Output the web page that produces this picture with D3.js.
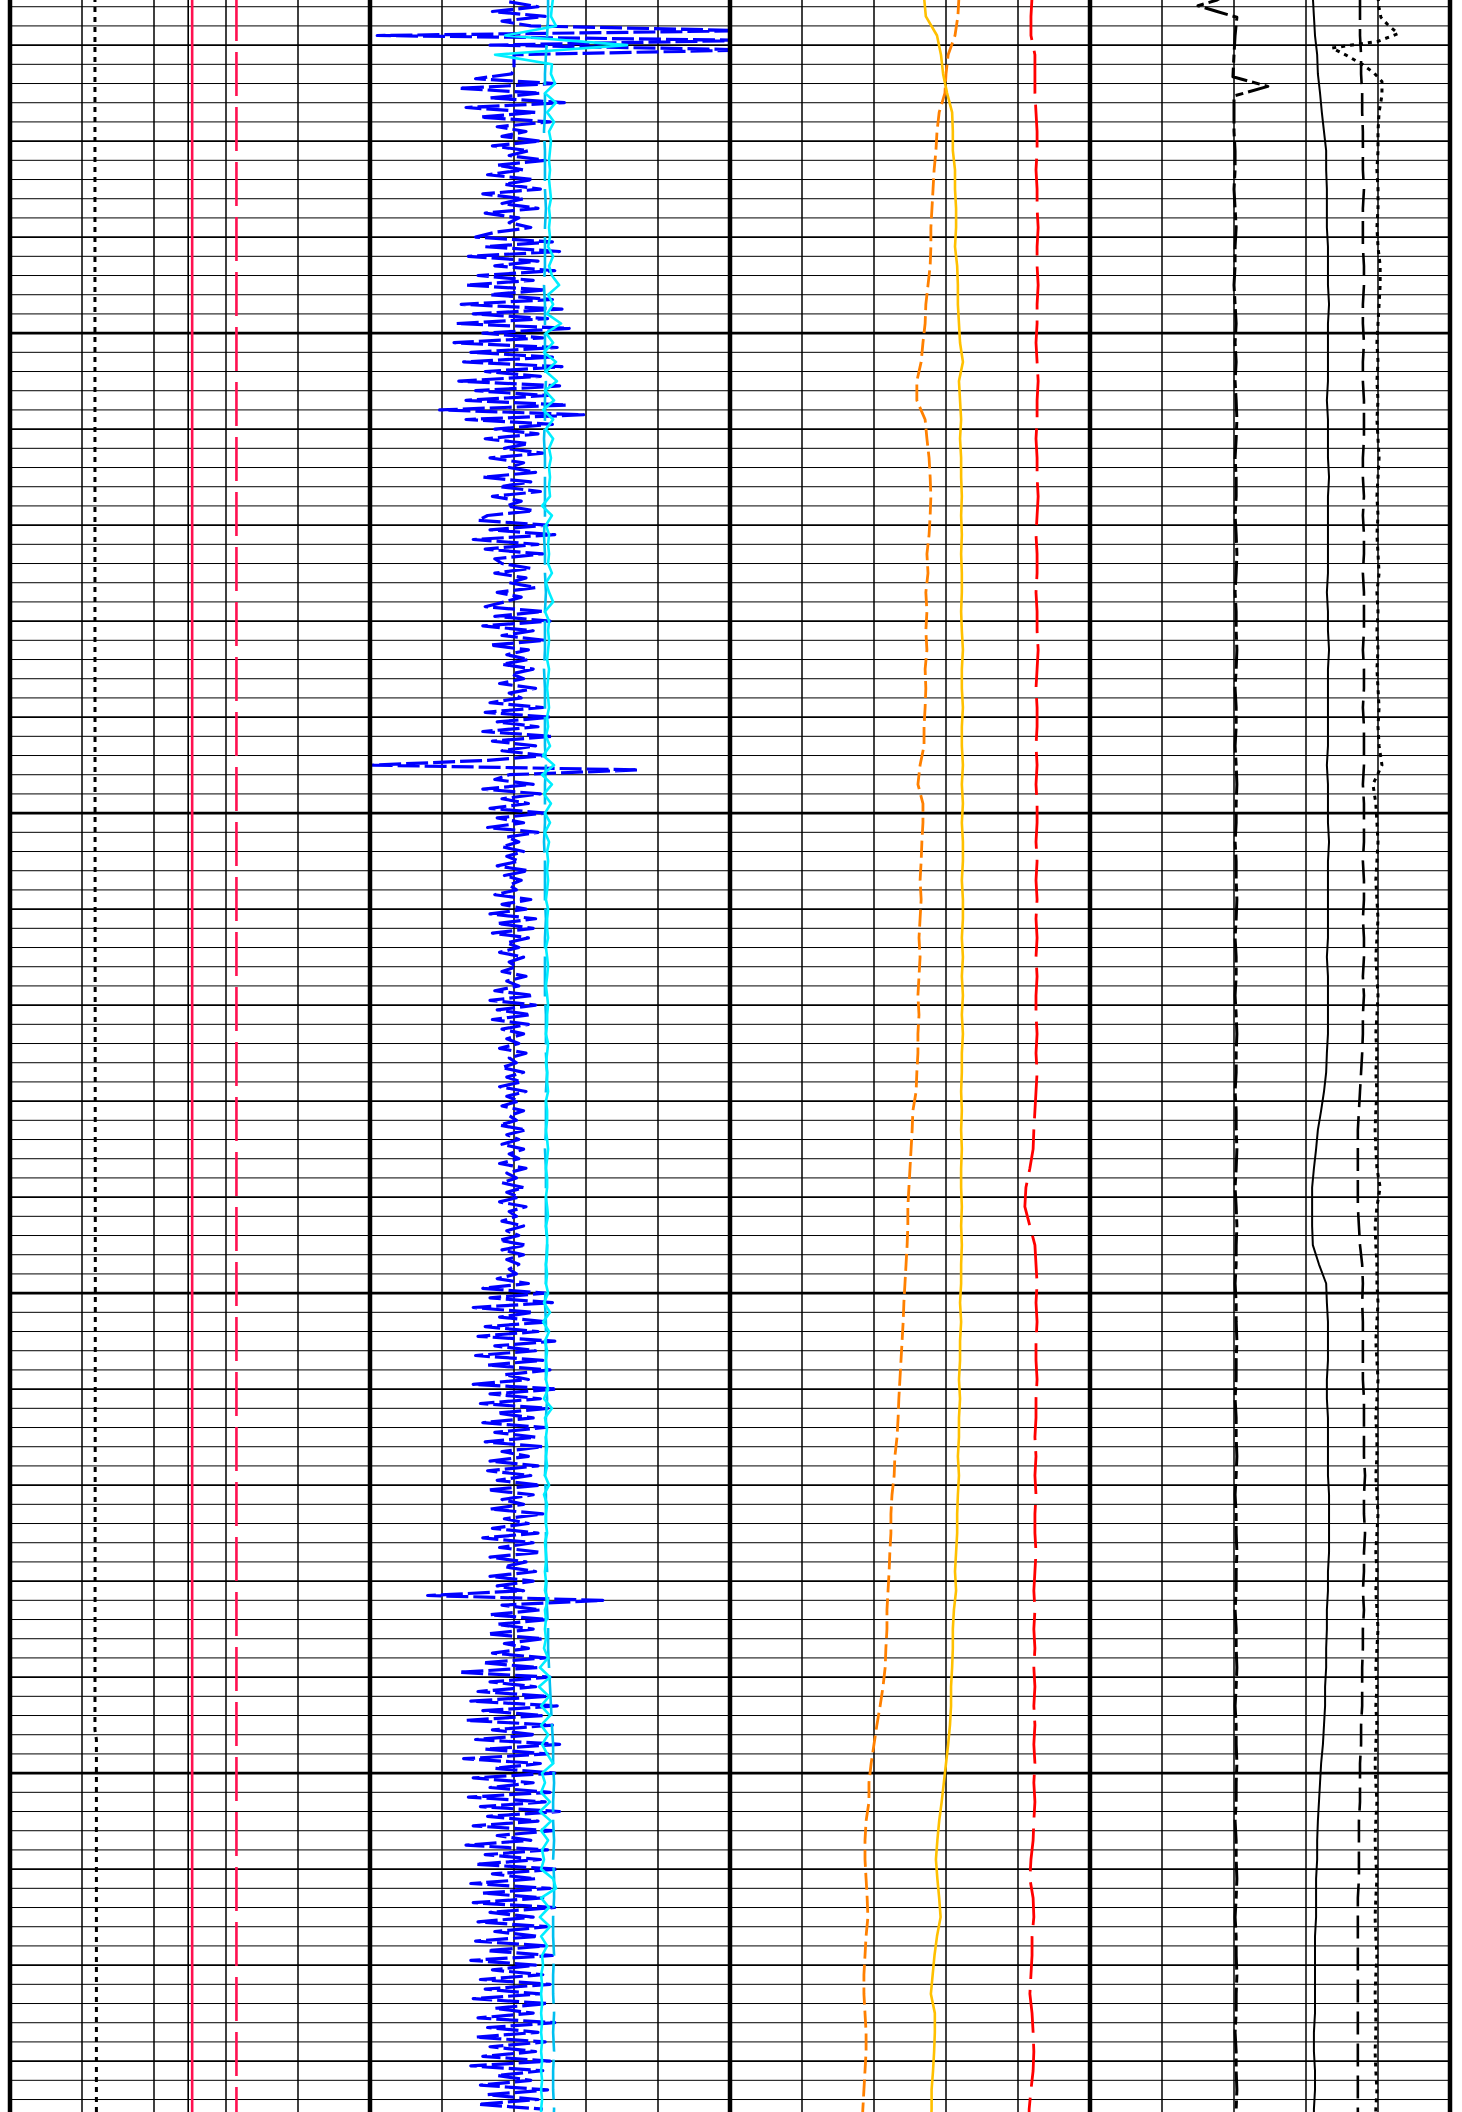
<!DOCTYPE html>
<html>
<head>
<meta charset="utf-8">
<script src="https://d3js.org/d3.v7.min.js"></script>
<style>
  body { margin: 0; background: #fff; }
  svg { display: block; }
</style>
</head>
<body>
<svg id="viz" width="1462" height="2112"></svg>

<script>
var width = 1462;
var height = 2112;

// depth window of the picture
var topDepth = 1015.3;
var bottomDepth = 1235.3;

// the four tracks
var trackLeft = [10, 370, 730, 1090];
var trackWidth = 360;
var trackDomain = [[0, 100], [0, 150], [0, 100], [0, 100]];

// ---- track 1 (nearly flat curves, few nodes) ----
var t1Depth = [1015, 1080, 1150, 1195.5, 1196.5, 1237];
var t1Dotted = [23.6, 23.6, 23.7, 23.6, 24.0, 24.0];
var t1Black = [49.5, 49.5, 49.5, 49.5, 49.5, 49.5];
var t1Red = [50.6, 50.6, 50.6, 50.6, 50.6, 50.6];
var t1RedDash = [62.9, 62.9, 62.9, 62.9, 62.9, 62.9];

// ---- track 2 ----
// blue curve, one sample every 0.5 from 1015.5
var blueStart = 1015.5, blueStep = 0.5;
var blueVal = [
  58, 70, 51, 73, 55, 67,
  158, 3, 158, 50, 160,
  60, 60, 60, 60, 59,
  44, 77, 37, 71, 50, 81, 40, 69, 46, 75, 53, 65,
  55, 71, 51, 66, 58, 73, 53, 64,
  49, 68, 56, 71, 47, 64, 55, 70, 48, 62, 58, 67, 52,
  44, 76, 48, 79, 41, 70, 52, 77, 45, 68, 40, 73, 50, 76,
  38, 80, 43, 74, 36, 83, 47, 72, 35, 78,
  42, 76, 39, 80, 48, 71, 37, 79, 44, 74, 40, 82, 29, 89,
  40, 76,
  52, 70, 48, 66, 56, 72, 50, 64, 58, 69, 47, 67, 54, 71, 51, 63, 57, 68, 49,
  45, 74, 50, 77, 43, 70, 48, 72, 52,
  55, 67, 52, 65, 58, 69, 53, 63, 56,
  48, 72, 52, 75, 47, 68, 55, 73, 50, 66,
  57, 66, 55, 68, 59, 64, 54, 69, 58, 63,
  50, 72, 48, 75, 53, 70, 47, 76, 51, 69, 55, 73, 49,
  1, 112, 58,
  52, 68, 47, 71, 55, 66, 50, 73, 53, 64, 49, 70, 57, 62,
  55, 64, 57, 62, 53, 66, 56, 63, 58, 61,
  52, 67, 55, 65, 50, 69, 53, 68, 51, 66,
  57, 62, 54, 64, 58, 61, 55, 65, 57, 62,
  52, 68, 50, 69, 53, 67, 51, 66, 55, 64,
  57, 62, 54, 65, 58, 61, 55, 64, 57, 63,
  54, 65, 57, 62, 55, 64, 58, 61, 54, 65,
  57, 62, 55, 64, 58, 62, 54, 65, 57, 61,
  55, 64, 57, 62, 54, 65, 58, 61, 55, 64,
  57, 62, 54, 65, 55, 64, 57, 62, 58, 61,
  53, 66,
  47, 73, 50, 76, 43, 68, 54, 74, 48, 70,
  45, 77, 52, 69, 44, 72, 49, 75, 56, 66,
  43, 78, 50, 71, 46, 74, 53, 68, 47, 73,
  52, 69, 48, 72, 55, 66, 50, 70, 49, 67,
  53, 71, 49, 68, 55, 64, 50, 72, 56, 66,
  51, 70, 47, 68, 54, 71, 50, 65, 56, 69,
  50, 68, 53, 64,
  24, 97,
  55, 71, 50, 74, 53, 68, 49, 72, 56, 66,
  51, 73, 47, 70, 37, 75, 50, 69, 45, 74,
  42, 78, 47, 72, 40, 76, 51, 69, 44, 79,
  48, 74, 39, 71, 52, 77, 43, 68, 50, 75,
  41, 73, 46, 79, 49, 70, 43, 76, 53, 67,
  40, 74, 48, 71, 44, 78, 51, 69, 42, 75,
  47, 72, 43, 77, 50, 68, 45, 74, 52, 70,
  44, 73, 49, 76, 42, 69, 51, 72, 46, 75,
  48, 71, 43, 74, 52, 68, 45, 77, 49, 70,
  44, 73, 50, 69, 47, 75, 42, 72, 53, 67,
  46, 74, 49, 70, 45, 72
];

// cyan curve, one sample every 1 from 1015
var cyanStart = 1015, cyanStep = 1;
var cyanVal = [
  76.3, 75.8, 75.4, 77.5, 56.3, 107.1, 52.1, 75.8, 75.4, 77.1,
  72.9, 77.5, 73.8, 76.7, 74.6, 75.4, 75.0, 74.6, 75.0, 74.6,
  75.0, 75.4, 74.6, 75.0, 74.6, 75.0, 74.2, 76.3, 74.6, 75.8,
  78.8, 74.2, 76.3, 73.8, 79.6, 73.3, 76.3, 72.5, 77.5, 73.3,
  77.9, 72.9, 76.7, 72.1, 76.3, 73.3, 76.3, 74.6, 75.4, 74.6,
  75.0, 74.6, 75.0, 71.7, 75.8, 73.3, 74.6, 74.2, 74.6, 74.2,
  75.8, 73.3, 74.6, 76.3, 72.9, 74.6, 74.2, 74.6, 74.2, 73.8,
  74.6, 74.2, 73.8, 74.2, 74.6, 73.8, 74.2, 73.3, 75.0, 72.1,
  76.7, 71.7, 75.8, 72.5, 75.4, 72.9, 75.0, 72.9, 74.6, 73.8,
  74.2, 73.8, 74.2, 73.8, 73.3, 74.2, 73.8, 73.8, 74.2, 73.3,
  73.8, 74.2, 73.8, 73.3, 73.8, 74.2, 73.8, 73.8, 73.3, 74.2,
  73.8, 73.3, 73.8, 73.8, 74.2, 73.3, 73.8, 73.8, 73.3, 73.8,
  74.2, 73.8, 73.3, 73.8, 73.8, 73.3, 73.8, 74.2, 73.3, 73.8,
  73.8, 73.8, 73.3, 73.8, 73.3, 74.2, 72.5, 75.0, 72.1, 74.6,
  72.9, 73.8, 73.3, 73.8, 73.3, 74.2, 72.5, 75.8, 72.9, 73.8,
  73.3, 73.8, 73.3, 73.8, 72.9, 74.6, 72.5, 73.8, 73.3, 73.3,
  73.8, 72.9, 73.3, 73.3, 72.9, 73.3, 72.9, 74.2, 72.9, 73.3,
  72.9, 73.3, 72.5, 74.2, 70.8, 75.0, 70.4, 74.6, 71.3, 75.0,
  71.3, 74.2, 71.7, 73.8, 76.3, 71.7, 72.9, 71.3, 75.0, 70.8,
  75.4, 71.3, 74.2, 71.7, 72.5, 71.3, 76.3, 77.5, 71.3, 74.6,
  70.8, 75.0, 71.3, 73.8, 71.7, 72.1, 71.3, 71.7, 71.3, 71.7,
  71.3, 71.7, 71.3, 71.7, 71.3, 71.7, 71.3, 71.7, 71.3, 71.7,
  71.3, 71.3
];

// sky blue dashed curve, every 2 from 1015
var skyVal = [
  74.2, 74.2, 73.8, 73.3,
  72.9, 72.9, 72.9, 72.5, 72.9, 72.9, 72.9, 73.3, 72.9, 72.9,
  72.9, 72.5, 72.9, 72.9, 72.9, 72.9, 73.3, 72.9, 72.9, 72.5,
  72.9, 72.9, 72.9, 72.9, 72.5, 72.9, 72.9, 73.3, 72.9, 72.9,
  72.9, 72.5, 72.9, 72.9, 72.9, 72.9, 73.3, 72.9, 72.9, 72.9,
  72.5, 72.9, 72.9, 72.9, 73.3, 72.9, 72.9, 72.9, 72.9,
  73.3, 73.3, 73.3, 73.8, 73.3, 73.3, 73.3, 72.9, 73.3, 73.3,
  73.3, 73.3, 73.8, 73.3, 73.3, 72.9, 73.3, 73.3, 73.3, 73.3,
  73.8, 73.3, 73.3, 73.3, 72.9, 73.3, 73.3, 73.3, 73.3, 73.8, 73.3,
  73.8, 74.2, 74.2, 74.6, 75.0, 75.4, 75.8, 76.3,
  76.3, 76.7, 76.3, 76.3, 76.7, 76.3, 76.7, 76.7, 76.3, 76.3,
  76.7, 76.3, 76.3, 76.7, 76.3, 76.7, 76.3, 76.3, 76.7, 76.3
];

// ---- track 3, every 2 from 1015 ----
var gridStart = 1015, gridStep = 2;
var yellowVal = [
  53.9, 54.4, 57.5, 58.6, 59.2, 60.3, 61.7, 61.9, 61.9, 62.5,
  62.5, 62.8, 62.8, 62.5, 63.1, 63.3, 63.3, 63.6, 63.9, 64.7,
  63.6, 63.9, 64.2, 63.9, 64.2, 64.2, 64.4, 64.2, 64.4, 64.2,
  64.4, 64.4, 64.2, 64.4, 64.7, 64.4, 64.4, 64.7, 64.4, 64.4,
  64.7, 64.4, 64.7, 64.4, 64.7, 64.7, 64.4, 64.7, 64.7, 64.4,
  64.7, 64.4, 64.7, 64.4, 64.7, 64.4, 64.4, 64.2, 64.4, 64.2,
  64.4, 64.2, 64.2, 64.4, 64.2, 64.4, 64.2, 64.2, 63.9, 64.2,
  63.9, 63.9, 63.6, 63.9, 63.6, 63.6, 63.3, 63.6, 63.3, 63.1,
  63.1, 62.8, 62.5, 62.8, 62.2, 61.9, 61.9, 61.7, 61.4, 61.4,
  61.1, 60.6, 60.0, 59.4, 58.8, 58.1, 57.6, 57.2, 57.6, 58.1,
  58.5, 57.5, 56.8, 56.3, 55.8, 56.9, 56.9, 56.7, 56.4, 56.0,
  56.0, 55.8
];
var orangeVal = [
  63.6, 63.3, 62.5, 60.6, 60.0, 59.7, 58.1, 57.5, 57.2, 56.7,
  56.4, 56.1, 55.8, 55.8, 55.6, 55.0, 54.4, 54.2, 53.6, 53.1,
  51.9, 51.9, 54.2, 54.7, 55.3, 55.6, 55.8, 55.6, 55.3, 54.7,
  55.0, 54.4, 54.7, 54.4, 54.7, 54.2, 54.4, 54.2, 53.9, 53.9,
  52.8, 52.2, 53.6, 53.6, 53.3, 53.1, 52.8, 53.1, 52.8, 52.5,
  52.8, 52.5, 52.2, 52.5, 52.2, 52.2, 51.9, 51.7, 50.8, 50.6,
  50.3, 50.0, 49.7, 49.4, 49.4, 49.2, 48.9, 48.6, 48.3, 48.1,
  47.8, 47.5, 47.2, 46.9, 46.7, 46.4, 45.8, 45.6, 45.0, 44.7,
  44.7, 44.4, 44.2, 43.9, 43.6, 43.6, 43.3, 43.1, 42.5, 41.7,
  40.8, 40.0, 39.2, 38.6, 38.6, 37.8, 37.5, 37.5, 37.8, 38.1,
  38.3, 37.8, 37.5, 37.2, 37.2, 37.5, 37.8, 37.8, 37.5, 37.2,
  36.9, 36.7
];
var redVal = [
  83.9, 83.6, 83.6, 84.7, 84.7, 84.7, 85.0, 85.3, 85.3, 85.0,
  85.3, 85.3, 85.6, 85.3, 85.3, 85.6, 85.3, 85.3, 85.0, 85.3,
  85.6, 85.3, 85.3, 85.0, 85.3, 85.3, 85.6, 85.3, 85.0, 85.3,
  85.3, 85.0, 85.3, 85.3, 85.6, 85.3, 85.0, 85.3, 85.3, 85.0,
  85.3, 85.0, 85.3, 85.3, 85.0, 85.3, 85.0, 85.3, 85.0, 85.3,
  85.0, 85.3, 85.0, 85.0, 85.3, 85.0, 85.3, 85.0, 84.7, 84.4,
  84.2, 83.3, 82.2, 81.9, 83.3, 84.7, 85.0, 85.3, 85.0, 85.3,
  85.0, 85.0, 85.3, 85.0, 85.0, 84.7, 85.0, 84.7, 85.0, 84.7,
  84.7, 85.0, 84.7, 84.4, 84.7, 84.4, 84.7, 84.4, 84.7, 84.4,
  84.7, 84.4, 84.7, 84.4, 84.7, 84.4, 84.2, 83.6, 83.3, 84.2,
  84.4, 83.9, 83.9, 83.6, 83.3, 83.9, 84.2, 84.4, 84.2, 83.6,
  83.1, 83.1
];

// ---- track 4, every 2 from 1015 ----
var solidVal = [
  61.9, 62.2, 62.5, 63.1, 63.3, 63.9, 64.4, 65.0, 65.6, 65.6,
  65.8, 65.8, 65.8, 66.1, 66.1, 66.1, 66.4, 66.1, 66.1, 66.1,
  66.1, 65.8, 66.1, 66.1, 66.1, 66.4, 66.1, 66.1, 66.1, 66.1,
  66.1, 65.8, 66.1, 66.1, 66.4, 66.1, 66.1, 66.1, 66.1, 66.1,
  65.8, 66.1, 66.1, 66.1, 66.4, 66.1, 66.1, 66.1, 66.1, 66.1,
  65.8, 66.1, 66.1, 66.1, 66.1, 65.8, 65.6, 65.0, 64.2, 63.3,
  62.8, 62.2, 61.7, 61.7, 61.7, 61.9, 63.6, 65.6, 65.8, 66.1,
  66.1, 66.1, 65.8, 65.8, 66.1, 66.1, 66.1, 66.1, 66.4, 66.4,
  66.4, 66.4, 66.1, 66.1, 65.8, 65.8, 65.6, 65.6, 65.3, 65.3,
  65.0, 64.7, 64.2, 63.9, 63.6, 63.3, 63.1, 63.1, 62.8, 62.8,
  62.8, 62.5, 62.5, 62.5, 62.5, 62.5, 62.2, 62.2, 62.5, 62.5,
  62.2, 62.2
];
var longDashVal = [
  75.0, 75.0, 75.0, 75.3, 75.3, 75.6, 75.6, 75.8,
  75.8, 75.8, 76.1, 75.8, 75.8, 75.8, 76.1, 76.1, 75.8, 75.8,
  76.1, 75.8, 75.8, 76.1, 76.1, 76.1, 75.8, 75.8, 76.1, 75.8,
  76.1, 76.1, 75.8, 76.1, 76.1, 76.1, 75.8, 76.1, 76.1, 75.8,
  76.1, 76.1, 76.1, 75.8, 76.1, 76.1, 76.1, 75.8, 76.1, 76.1,
  75.8, 76.1, 76.1, 75.8, 76.1, 75.8,
  75.8, 75.6, 75.3, 75.0, 74.7,
  74.4, 74.4, 74.4, 74.4, 74.4,
  74.7, 75.0, 75.6, 75.8, 75.6,
  75.8, 75.8, 75.8, 75.8, 76.1, 76.1,
  76.1, 76.1, 76.4, 76.1, 76.1, 76.4, 76.1, 76.1, 75.8, 76.1,
  75.8, 75.8, 75.6, 75.6, 75.6, 75.3,
  75.3, 75.0, 75.0, 75.0, 74.7, 74.7, 74.7, 74.7,
  74.4, 74.4, 74.4, 74.4, 74.4, 74.4, 74.4, 74.4, 74.4, 74.4,
  74.4, 74.4, 74.4
];
// dotted and dash-dot curves have extra detail at the top, then every 2 from 1027
var dotTopDepth = [1015.0, 1016.1, 1017.1, 1017.9, 1018.8, 1019.6, 1020.3, 1021.1, 1022.0, 1022.9, 1023.8, 1025.2];
var dotVal = [
  80.0, 80.3, 80.8, 82.8, 85.6, 80.0, 67.2, 71.4, 75.6, 78.9, 81.1, 81.1,
  80.3, 80.0, 80.0, 79.7, 80.0, 80.0, 79.7, 80.0, 80.6, 80.6,
  80.3, 80.0, 79.7, 80.0, 79.7, 80.0, 79.7, 80.0, 80.3, 80.0,
  79.7, 80.0, 79.7, 80.0, 80.3, 79.7, 80.0, 79.7, 80.0, 79.7,
  80.0, 80.3, 80.0, 80.3, 81.1, 78.6, 79.4, 79.7, 80.0, 79.7,
  79.4, 79.7, 80.0, 79.7, 79.4, 79.7, 80.0, 79.7, 79.4, 79.7,
  79.4, 79.7, 79.4, 79.2, 79.4, 79.7, 80.6, 79.7, 79.2, 79.4,
  79.7, 79.7, 80.0, 79.7, 79.4, 79.7, 80.0, 79.7, 79.4, 79.7,
  79.7, 79.4, 79.7, 80.0, 79.7, 79.4, 79.7, 79.4, 79.7, 80.0,
  79.7, 79.4, 79.7, 79.4, 79.7, 79.4, 79.2, 79.4, 79.7, 79.4,
  79.2, 79.4, 79.7, 79.4, 79.2, 79.4, 79.7, 79.4, 79.2, 79.4,
  79.4, 79.2, 79.4, 79.7, 79.4, 79.2
];
var dashDotTopDepth = [1014.5, 1015.3, 1015.9, 1016.5, 1017.1, 1019.0, 1021.0, 1023.3, 1024.3, 1025.3];
var dashDotVal = [
  38.9, 35.3, 30.0, 35.3, 40.8, 40.3, 40.0, 39.7, 49.4, 40.0,
  40.0, 40.0, 40.3, 40.3, 40.0, 40.3, 40.6, 40.3, 40.3, 40.0,
  40.3, 40.6, 40.3, 40.6, 40.3, 40.6, 40.8, 40.6, 40.3, 40.6,
  40.6, 40.3, 40.6, 40.8, 40.6, 40.3, 40.6, 40.6, 40.8, 40.6,
  40.3, 40.6, 40.6, 40.3, 40.6, 40.8, 40.6, 40.6, 40.3, 40.6,
  40.6, 40.8, 40.6, 40.3, 40.6, 40.6, 40.3, 40.6, 40.8, 40.6,
  40.6, 40.3, 40.6, 40.6, 40.8, 40.6, 40.3, 40.6, 40.8, 40.6,
  40.6, 40.3, 40.6, 40.6, 40.8, 40.6, 40.6, 40.3, 40.6, 40.6,
  40.8, 40.6, 40.3, 40.6, 40.6, 40.8, 40.6, 40.6, 40.3, 40.6,
  40.6, 40.8, 40.6, 40.3, 40.6, 40.6, 40.8, 40.6, 40.6, 40.3,
  40.6, 40.6, 40.8, 40.6, 40.3, 40.6, 40.6, 40.8, 40.6, 40.6,
  40.3, 40.6, 40.6, 40.8, 40.6, 40.6
];
</script>

<script>
var svg = d3.select("#viz");

var y = d3.scaleLinear().domain([topDepth, bottomDepth]).range([0, height]);
var xs = trackDomain.map(function(dom, t) {
  return d3.scaleLinear().domain(dom).range([trackLeft[t], trackLeft[t] + trackWidth]);
});

function regular(start, step, n) {
  return d3.range(n).map(function(i) { return start + step * i; });
}
// top nodes typed, the rest on the 2-unit grid
function withTop(top, n) {
  return top.concat(regular(1027, 2, n - top.length));
}

svg.append("rect").attr("width", width).attr("height", height).attr("fill", "#fff");

// clip each track
var defs = svg.append("defs");
trackLeft.forEach(function(x0, t) {
  defs.append("clipPath").attr("id", "clip" + t)
    .append("rect").attr("x", x0).attr("y", 0).attr("width", trackWidth).attr("height", height);
});

// horizontal depth grid
var gridLines = d3.range(1016, 1236, 2);
svg.append("g").selectAll("line").data(gridLines).enter().append("line")
  .attr("x1", trackLeft[0]).attr("x2", trackLeft[3] + trackWidth)
  .attr("y1", function(d) { return y(d); })
  .attr("y2", function(d) { return y(d); })
  .attr("stroke", "#000")
  .attr("stroke-width", function(d) {
    if (d % 50 === 0) return 2.8;
    if (d % 10 === 0) return 1.8;
    return 1;
  });

// vertical grid inside each track
xs.forEach(function(sc) {
  var dom = sc.domain();
  var ticks = d3.range(1, 5).map(function(j) { return dom[0] + j * (dom[1] - dom[0]) / 5; });
  svg.append("g").selectAll("line").data(ticks).enter().append("line")
    .attr("x1", function(d) { return sc(d); })
    .attr("x2", function(d) { return sc(d); })
    .attr("y1", 0).attr("y2", height)
    .attr("stroke", "#000").attr("stroke-width", 1.5);
});

var curves = [
  { track: 0, depth: t1Depth, val: t1Dotted, color: "#000", w: 3, dash: "5,5" },
  { track: 0, depth: t1Depth, val: t1Black, color: "#000", w: 1.6, dash: null },
  { track: 0, depth: t1Depth, val: t1Red, color: "#ff1050", w: 2.6, dash: null },
  { track: 0, depth: t1Depth, val: t1RedDash, color: "#ff1050", w: 2.6, dash: "44,11" },

  { track: 1, depth: regular(blueStart, blueStep, blueVal.length), val: blueVal, color: "#0000ff", w: 3.2, dash: "22,5" },
  { track: 1, depth: regular(gridStart, gridStep, skyVal.length), val: skyVal, color: "#00bff0", w: 2.6, dash: "40,8" },
  { track: 1, depth: regular(cyanStart, cyanStep, cyanVal.length), val: cyanVal, color: "#00eeff", w: 2.6, dash: null },

  { track: 2, depth: regular(gridStart, gridStep, orangeVal.length), val: orangeVal, color: "#ff8000", w: 2.8, dash: "17,6" },
  { track: 2, depth: regular(gridStart, gridStep, yellowVal.length), val: yellowVal, color: "#ffc000", w: 2.6, dash: null },
  { track: 2, depth: regular(gridStart, gridStep, redVal.length), val: redVal, color: "#ff0000", w: 2.8, dash: "43,11" },

  { track: 3, depth: withTop(dashDotTopDepth, dashDotVal.length), val: dashDotVal, color: "#000", w: 3, dash: "24,5,8,5" },
  { track: 3, depth: regular(gridStart, gridStep, solidVal.length), val: solidVal, color: "#000", w: 2, dash: null },
  { track: 3, depth: regular(gridStart, gridStep, longDashVal.length), val: longDashVal, color: "#000", w: 2.6, dash: "23,9" },
  { track: 3, depth: withTop(dotTopDepth, dotVal.length), val: dotVal, color: "#000", w: 3, dash: "4,5" }
];

curves.forEach(function(c) {
  var pts = c.val.map(function(v, i) { return [c.depth[i], v]; });
  var line = d3.line()
    .x(function(p) { return xs[c.track](p[1]); })
    .y(function(p) { return y(p[0]); });
  svg.append("path")
    .attr("d", line(pts))
    .attr("clip-path", "url(#clip" + c.track + ")")
    .attr("fill", "none")
    .attr("stroke", c.color)
    .attr("stroke-width", c.w)
    .attr("stroke-linejoin", "round")
    .attr("stroke-dasharray", c.dash);
});

// heavy track borders
var borders = trackLeft.concat([trackLeft[3] + trackWidth]);
svg.append("g").selectAll("line").data(borders).enter().append("line")
  .attr("x1", function(d) { return d; })
  .attr("x2", function(d) { return d; })
  .attr("y1", 0).attr("y2", height)
  .attr("stroke", "#000").attr("stroke-width", 4.5);
</script>
</body>
</html>
